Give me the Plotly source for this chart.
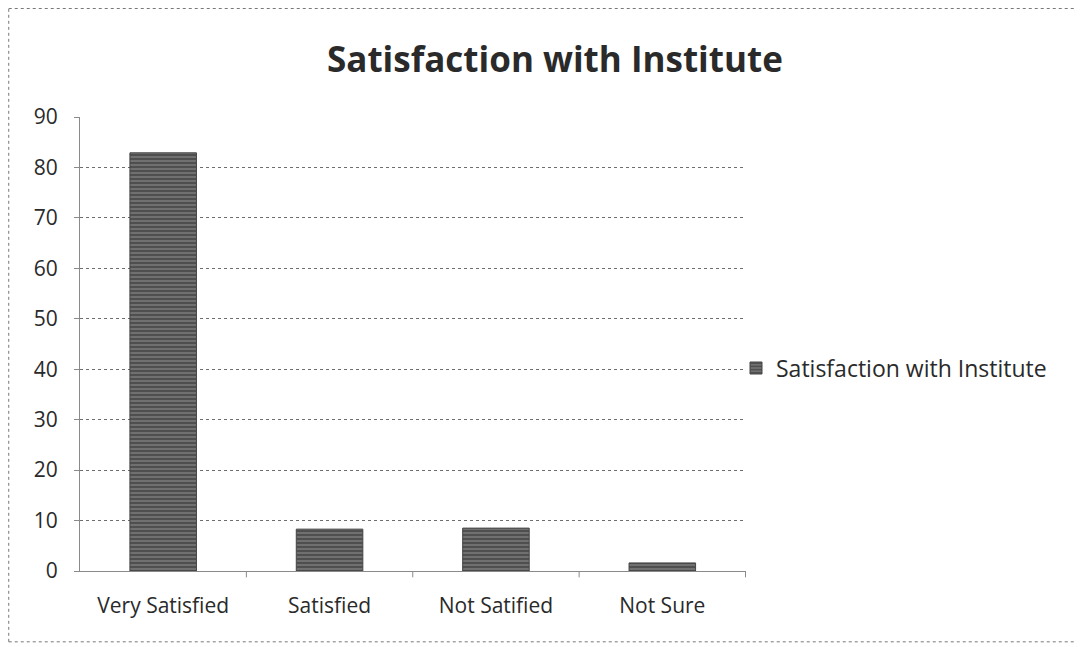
import plotly.graph_objects as go

categories = ["Very Satisfied", "Satisfied", "Not Satified", "Not Sure"]
values = [82.9, 8.3, 8.5, 1.6]
series_name = "Satisfaction with Institute"
y_ticks = [0, 10, 20, 30, 40, 50, 60, 70, 80, 90]

FONT = "Open Sans, Lato, sans-serif"

fig = go.Figure()
fig.add_trace(go.Bar(
    x=categories, y=values, name=series_name, width=0.4,
    marker=dict(color="#666666", line=dict(color="#444444", width=1),
                pattern=dict(shape="-", fgcolor="#2e2e2e", bgcolor="#707070", size=4, solidity=0.5)),
    showlegend=True,
))

fig.update_layout(
    width=1083, height=647,
    paper_bgcolor="white", plot_bgcolor="white",
    margin=dict(l=72, r=345, t=109, b=84),
    title=dict(text="<b>Satisfaction with Institute</b>", x=0.505, xanchor="center",
               y=0.92, yanchor="middle",
               font=dict(family=FONT, size=35, color="#2a2a2a")),
    font=dict(family=FONT, size=21, color="#2a2a2a"),
    showlegend=True,
    legend=dict(x=0.985, xanchor="left", y=0.447, yanchor="middle",
                font=dict(size=23, color="#2a2a2a"), bgcolor="rgba(0,0,0,0)",
                itemwidth=30),
    bargap=0.6,
)
fig.update_yaxes(range=[0, 90], tickvals=y_ticks, showgrid=True, gridcolor="#6e6e6e",
                 griddash="dot", gridwidth=1, showline=True, linecolor="#8a8a8a",
                 ticks="outside", ticklen=5, tickcolor="#8a8a8a", zeroline=False,
                 ticklabelstandoff=12, tickfont=dict(size=21))
fig.update_xaxes(showline=True, linecolor="#8a8a8a", ticks="", tickfont=dict(size=21),
                 showgrid=False, ticklabelstandoff=16)
# category separator ticks on x axis
for i in range(len(categories)):
    fig.add_shape(type="line", xref="x", yref="paper", x0=i + 0.5, x1=i + 0.5,
                  y0=0, y1=-0.014, line=dict(color="#8a8a8a", width=1))
# dotted frame: left, top, bottom edges
frame = dict(color="#777777", width=1, dash="dot")
fig.add_shape(type="line", xref="paper", yref="paper", x0=-0.107, x1=-0.107, y0=-0.156, y1=1.239, line=frame)
fig.add_shape(type="line", xref="paper", yref="paper", x0=-0.107, x1=1.7, y0=1.239, y1=1.239, line=frame)
fig.add_shape(type="line", xref="paper", yref="paper", x0=-0.107, x1=1.7, y0=-0.156, y1=-0.156, line=frame)

fig.write_html("out.html")
